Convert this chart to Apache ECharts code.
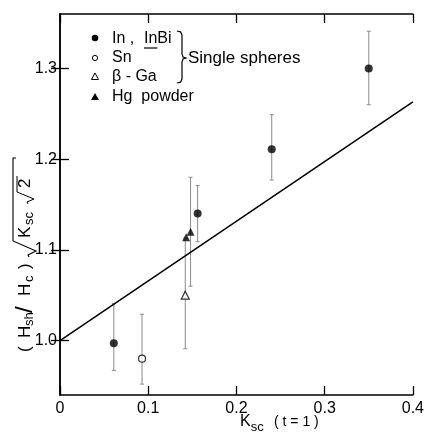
<!DOCTYPE html>
<html><head><meta charset="utf-8">
<script src="https://cdn.jsdelivr.net/npm/echarts@6/dist/echarts.min.js"></script>
<style>html,body{margin:0;padding:0;background:#fff}#c{width:427px;height:432px}</style>
</head><body><div id="c"></div>
<script>
// ---- data ----
const xTicks = [0, 0.1, 0.2, 0.3, 0.4];
const xTickLabels = ['0', '0.1', '0.2', '0.3', '0.4'];
const yTicks = [1.0, 1.1, 1.2, 1.3];
const yTickLabels = ['1.0', '1.1', '1.2', '1.3'];

const inX  = [0.061, 0.156, 0.240, 0.350];
const inY  = [0.997, 1.140, 1.211, 1.300];
const inLo = [0.967, 1.109, 1.177, 1.260];
const inHi = [1.041, 1.171, 1.249, 1.341];

const snX  = [0.093];
const snY  = [0.980];
const snLo = [0.952];
const snHi = [1.029];

const gaX  = [0.142];
const gaY  = [1.050];
const gaLo = [0.991];
const gaHi = [1.113];

const hgX  = [0.143, 0.148];
const hgY  = [1.114, 1.120];
const hgLo = [null, 1.060];
const hgHi = [null, 1.180];

const fitX = [0, 0.4];
const fitY = [1.000, 1.263];

const legendNames = ['In ,', 'InBi', 'Sn', 'β - Ga', 'Hg  powder', 'Single spheres'];
const xTitle = ['K', 'sc', '( t = 1 )'];
const yTitleParts = ['(', 'H', 'sh', '/', 'H', 'c', ')', 'K', 'sc', '2'];

// ---- build ----
const pairs = (xs, ys) => xs.map((x, i) => [x, ys[i]]);
const bars = [];
[[inX, inLo, inHi], [snX, snLo, snHi], [gaX, gaLo, gaHi], [hgX, hgLo, hgHi]].forEach(([xs, lo, hi]) => {
  xs.forEach((x, i) => { if (lo[i] != null) bars.push([x, lo[i], hi[i]]); });
});

const FONT = '"Liberation Sans", Arial, sans-serif';
const meas = document.createElement('canvas').getContext('2d');
function tw(t, sz) { meas.font = sz + 'px ' + FONT; return meas.measureText(t).width; }

const chart = echarts.init(document.getElementById('c'), null, {renderer: 'canvas'});

const axLine = {show: true, lineStyle: {color: '#000', width: 1.5}};
const tick = {show: true, inside: true, length: 9, lineStyle: {color: '#000', width: 1.3}};

// y-axis title (rotated group; local x runs bottom -> top)
function yTitle() {
  const els = [];
  const layout = [
    [0, -96, 17, 0], [1, -82, 17, 0], [2, -70, 13, 4], [3, -57, 24, 0],
    [4, -40, 17, 0], [5, -26, 13, 4], [6, -13, 17, 0],
    [7, 18, 17, 0], [8, 31, 13, 4], [9, 68, 17, 0]
  ];
  layout.forEach(([i, x, s, dy]) => {
    els.push({type: 'text', x: x, y: dy, style: {text: yTitleParts[i], font: s + 'px ' + FONT, fill: '#000', verticalAlign: 'middle', align: 'left'}});
  });
  els.push({type: 'polyline', shape: {points: [[-1, 4], [1, 3], [5, 11], [15, -12], [98, -12], [98, -9]]}, style: {stroke: '#000', lineWidth: 1.1, fill: null}});
  els.push({type: 'polyline', shape: {points: [[52, 3], [54, 2], [57, 9], [64, -8], [80, -8]]}, style: {stroke: '#000', lineWidth: 1, fill: null}});
  return {type: 'group', x: 25, y: 256, rotation: Math.PI / 2, children: els};
}

const legendFont = '16px ' + FONT;
const inBiX = 144;
const graphic = [
  yTitle(),
  // legend markers
  {type: 'circle', shape: {cx: 95, cy: 38, r: 3.3}, style: {fill: '#000'}},
  {type: 'circle', shape: {cx: 95, cy: 58, r: 2.6}, style: {fill: '#fff', stroke: '#000', lineWidth: 1}},
  {type: 'polygon', shape: {points: [[95, 73], [91.5, 79.5], [98.5, 79.5]]}, style: {fill: '#fff', stroke: '#000', lineWidth: 1}},
  {type: 'polygon', shape: {points: [[95, 93], [91, 100], [99, 100]]}, style: {fill: '#000'}},
  // legend texts
  {type: 'text', x: 112, y: 39, style: {text: legendNames[0], font: legendFont, fill: '#000', verticalAlign: 'middle'}},
  {type: 'text', x: inBiX, y: 39, style: {text: legendNames[1], font: legendFont, fill: '#000', verticalAlign: 'middle'}},
  {type: 'line', shape: {x1: inBiX, y1: 48, x2: inBiX + tw('In', 16), y2: 48}, style: {stroke: '#000', lineWidth: 1.2}},
  {type: 'text', x: 112, y: 58, style: {text: legendNames[2], font: legendFont, fill: '#000', verticalAlign: 'middle'}},
  {type: 'text', x: 112, y: 77, style: {text: legendNames[3], font: legendFont, fill: '#000', verticalAlign: 'middle'}},
  {type: 'text', x: 112, y: 97, style: {text: legendNames[4], font: legendFont, fill: '#000', verticalAlign: 'middle'}},
  // brace
  {type: 'polyline', shape: {points: [[177, 31], [180.5, 31.8], [182, 35], [182, 54], [183, 57], [186, 58], [183, 59], [182, 62], [182, 79], [180.5, 82.2], [177, 83]]}, style: {stroke: '#000', lineWidth: 1.2, fill: null}},
  {type: 'text', x: 188, y: 58, style: {text: legendNames[5], font: '17px ' + FONT, fill: '#000', verticalAlign: 'middle'}},
  // x-axis title
  {type: 'text', x: 240, y: 422, style: {text: xTitle[0], font: '16px ' + FONT, fill: '#000', verticalAlign: 'middle'}},
  {type: 'text', x: 240 + tw('K', 16), y: 427, style: {text: xTitle[1], font: '13px ' + FONT, fill: '#000', verticalAlign: 'middle'}},
  {type: 'text', x: 274, y: 422, style: {text: xTitle[2], font: '14px ' + FONT, fill: '#000', verticalAlign: 'middle'}}
];

const option = {
  animation: false,
  backgroundColor: '#fff',
  grid: {left: 60, right: 12, top: 14, bottom: 37, containLabel: false},
  xAxis: [
    {type: 'value', min: 0, max: 0.4, interval: 0.1, position: 'bottom',
     axisLine: axLine, axisTick: tick, splitLine: {show: false},
     axisLabel: {margin: 6, color: '#000', fontSize: 16, fontFamily: FONT,
       formatter: v => { const i = xTicks.findIndex(t => Math.abs(t - v) < 1e-9); return i >= 0 ? xTickLabels[i] : ''; }}},
    {type: 'value', min: 0, max: 0.4, interval: 0.1, position: 'top',
     axisLine: axLine, axisTick: tick, splitLine: {show: false}, axisLabel: {show: false}}
  ],
  yAxis: [
    {type: 'value', min: 0.94, max: 1.36, position: 'left',
     axisLine: axLine, splitLine: {show: false},
     axisTick: Object.assign({}, tick, {customValues: yTicks}),
     axisLabel: {margin: 3, color: '#000', fontSize: 16, fontFamily: FONT, customValues: yTicks,
       formatter: v => { const i = yTicks.findIndex(t => Math.abs(t - v) < 1e-9); return i >= 0 ? yTickLabels[i] : ''; }}},
    {type: 'value', min: 0.94, max: 1.36, position: 'right',
     axisLine: axLine, splitLine: {show: false},
     axisTick: Object.assign({}, tick, {customValues: yTicks}),
     axisLabel: {show: false}}
  ],
  graphic: graphic,
  series: [
    {type: 'line', data: pairs(fitX, fitY), showSymbol: false, symbol: 'none',
     lineStyle: {color: '#000', width: 1.5}, z: 3},
    {type: 'custom', data: bars, z: 2,
     renderItem: (params, api) => {
       const x = api.value(0);
       const a = api.coord([x, api.value(1)]);
       const b = api.coord([x, api.value(2)]);
       const st = {stroke: '#8a8a8a', lineWidth: 1};
       return {type: 'group', children: [
         {type: 'line', shape: {x1: a[0], y1: a[1], x2: b[0], y2: b[1]}, style: st},
         {type: 'line', shape: {x1: a[0] - 2, y1: a[1], x2: a[0] + 2, y2: a[1]}, style: st},
         {type: 'line', shape: {x1: b[0] - 2, y1: b[1], x2: b[0] + 2, y2: b[1]}, style: st}
       ]};
     }},
    {type: 'scatter', data: pairs(inX, inY), symbol: 'circle', symbolSize: 8,
     itemStyle: {color: '#000'}, z: 5},
    {type: 'scatter', data: pairs(snX, snY), symbol: 'circle', symbolSize: 7,
     itemStyle: {color: '#fff', borderColor: '#000', borderWidth: 1.2}, z: 5},
    {type: 'scatter', data: pairs(gaX, gaY), symbol: 'triangle', symbolSize: 8,
     itemStyle: {color: '#fff', borderColor: '#000', borderWidth: 1.2}, z: 5},
    {type: 'scatter', data: pairs(hgX, hgY), symbol: 'triangle', symbolSize: 8,
     itemStyle: {color: '#000'}, z: 5}
  ]
};
chart.setOption(option);
</script>
</body></html>
